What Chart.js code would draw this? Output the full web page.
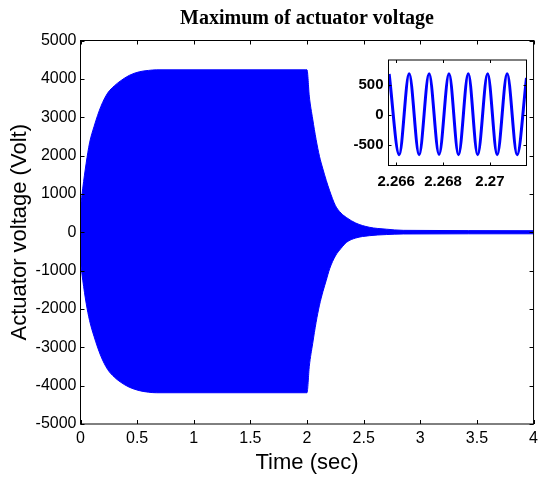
<!DOCTYPE html>
<html>
<head>
<meta charset="utf-8">
<script src="https://cdn.jsdelivr.net/npm/chart.js@4.4.0/dist/chart.umd.min.js"></script>
<style>
  html, body { margin: 0; padding: 0; background: #fff; }
  #wrap { position: relative; width: 543px; height: 477px; }
  #main { position: absolute; left: 0; top: 0; }
  #inset { position: absolute; left: 340px; top: 46px; }
</style>
</head>
<body>
<div id="wrap">
  <canvas id="main" width="543" height="477"></canvas>
  <canvas id="inset" width="190" height="150"></canvas>
</div>
<script>
// Envelope of the actuator voltage (Volt) against time (sec)
const envTime  = [0, 0.02, 0.05, 0.08, 0.12, 0.18, 0.24, 0.30, 0.35, 0.43, 0.52, 0.60, 0.67, 1.99, 2.00, 2.02, 2.05, 2.08, 2.11, 2.14, 2.17, 2.20, 2.25, 2.30, 2.35, 2.43, 2.55, 2.70, 2.85, 4.00];
const envUpper = [650, 1150, 1800, 2330, 2760, 3280, 3630, 3820, 3940, 4090, 4185, 4220, 4235, 4235, 4235, 3550, 2950, 2420, 1980, 1650, 1350, 1080, 700, 500, 380, 240, 130, 80, 50, 40];
const envLower = [-780, -1250, -1850, -2300, -2720, -3230, -3580, -3780, -3900, -4040, -4130, -4170, -4185, -4185, -4185, -3500, -2900, -2350, -1900, -1550, -1250, -950, -620, -420, -260, -150, -90, -60, -45, -40];

// Close-up window around t = 2.268 sec
const zoomTime = [2.265700, 2.266128, 2.266553, 2.266979, 2.267404, 2.267830, 2.268255, 2.268660, 2.269077, 2.269477, 2.269902, 2.270311, 2.270736, 2.271162, 2.271562];
const zoomVolt = [678, -665, 682, -668, 684, -664, 683, -667, 681, -668, 683, -665, 682, -667, 615];

// Tick values and labels
const mainXTicks = [0, 0.5, 1, 1.5, 2, 2.5, 3, 3.5, 4];
const mainYTicks = [-5000, -4000, -3000, -2000, -1000, 0, 1000, 2000, 3000, 4000, 5000];
const zoomXTicks = [2.266, 2.268, 2.27];
const zoomXLabels = ['2.266', '2.268', '2.27'];
const zoomYTicks = [-500, 0, 500];

const BLUE = '#0000ff';
const SANS = "'Liberation Sans', Arial, sans-serif";
const SERIF = "'Liberation Serif', 'Times New Roman', serif";

const pts = (xs, ys) => xs.map((x, i) => ({ x: x, y: ys[i] }));

// Box frame with inward tick marks on all four sides
const boxTicks = {
  id: 'boxTicks',
  beforeDraw(chart, args, opts) {
    if (!opts.fill) return;
    const { ctx, chartArea: a } = chart;
    ctx.save();
    ctx.fillStyle = opts.fill;
    ctx.fillRect(a.left, a.top, a.right - a.left, a.bottom - a.top);
    ctx.restore();
  },
  afterDraw(chart, args, opts) {
    const { ctx, chartArea: a, scales } = chart;
    const L = opts.len;
    ctx.save();
    ctx.strokeStyle = '#000';
    ctx.lineWidth = 1;
    ctx.beginPath();
    scales.x.ticks.forEach(t => {
      const px = Math.round(scales.x.getPixelForValue(t.value)) + 0.5;
      ctx.moveTo(px, a.bottom); ctx.lineTo(px, a.bottom - L);
      ctx.moveTo(px, a.top); ctx.lineTo(px, a.top + L);
    });
    scales.y.ticks.forEach(t => {
      const py = Math.round(scales.y.getPixelForValue(t.value)) + 0.5;
      ctx.moveTo(a.left, py); ctx.lineTo(a.left + L, py);
      ctx.moveTo(a.right, py); ctx.lineTo(a.right - L, py);
    });
    ctx.stroke();
    ctx.strokeRect(a.left, a.top, a.right - a.left, a.bottom - a.top);
    ctx.restore();
  }
};

// Main chart
new Chart(document.getElementById('main'), {
  type: 'line',
  data: {
    datasets: [
      {
        data: pts(envTime, envUpper),
        borderColor: BLUE, backgroundColor: BLUE, borderWidth: 1,
        pointRadius: 0, cubicInterpolationMode: 'monotone', fill: '+1'
      },
      {
        data: pts(envTime, envLower),
        borderColor: BLUE, backgroundColor: BLUE, borderWidth: 1,
        pointRadius: 0, cubicInterpolationMode: 'monotone', fill: false
      }
    ]
  },
  options: {
    responsive: false, animation: false, devicePixelRatio: 1,
    layout: { padding: { left: 0, right: 7.5, top: 0, bottom: 0 } },
    plugins: {
      legend: { display: false }, tooltip: { enabled: false },
      title: {
        display: true, fullSize: false, text: 'Maximum of actuator voltage', color: '#000',
        font: { family: SERIF, size: 20, weight: 'bold' },
        padding: { top: 7, bottom: 9.5 }
      },
      boxTicks: { len: 4 }
    },
    scales: {
      x: {
        type: 'linear', min: 0, max: 4,
        afterBuildTicks: s => { s.ticks = mainXTicks.map(v => ({ value: v })); },
        afterFit: s => { s.height = 53; },
        grid: { display: false, drawTicks: false }, border: { display: false },
        ticks: { color: '#000', font: { family: SANS, size: 16 }, padding: 5, maxRotation: 0, autoSkip: false, callback: v => String(v) },
        title: { display: true, text: 'Time (sec)', color: '#000', font: { family: SANS, size: 22 }, padding: { top: 0, bottom: 1 } }
      },
      y: {
        type: 'linear', min: -5000, max: 5000,
        afterBuildTicks: s => { s.ticks = mainYTicks.map(v => ({ value: v })); },
        afterFit: s => { s.width = 80.5; },
        grid: { display: false, drawTicks: false }, border: { display: false },
        ticks: { color: '#000', font: { family: SANS, size: 16 }, padding: 4, autoSkip: false, callback: v => String(v) },
        title: { display: true, text: 'Actuator voltage (Volt)', color: '#000', font: { family: SANS, size: 22 }, padding: { top: 7, bottom: 0 } }
      }
    }
  },
  plugins: [boxTicks]
});

// Inset chart
new Chart(document.getElementById('inset'), {
  type: 'line',
  data: {
    datasets: [{
      data: pts(zoomTime, zoomVolt),
      borderColor: BLUE, borderWidth: 3, pointRadius: 0,
      cubicInterpolationMode: 'monotone', fill: false
    }]
  },
  options: {
    responsive: false, animation: false, devicePixelRatio: 1,
    layout: { padding: { left: 0, right: 3.5, top: 4.5, bottom: 0 } },
    plugins: {
      legend: { display: false }, tooltip: { enabled: false },
      boxTicks: { len: 3, fill: '#fff' }
    },
    scales: {
      x: {
        type: 'linear', min: 2.265672, max: 2.271562,
        afterBuildTicks: s => { s.ticks = zoomXTicks.map(v => ({ value: v })); },
        afterFit: s => { s.height = 30.5; },
        grid: { display: false, drawTicks: false }, border: { display: false },
        ticks: { color: '#000', font: { family: SANS, size: 15, weight: 'bold' }, padding: 7, maxRotation: 0, autoSkip: false,
          callback: (v, i) => zoomXLabels[i] }
      },
      y: {
        type: 'linear', min: -846, max: 912,
        afterBuildTicks: s => { s.ticks = zoomYTicks.map(v => ({ value: v })); },
        afterFit: s => { s.width = 48.5; },
        grid: { display: false, drawTicks: false }, border: { display: false },
        ticks: { color: '#000', font: { family: SANS, size: 15, weight: 'bold' }, padding: 5, autoSkip: false, callback: v => String(v) }
      }
    }
  },
  plugins: [boxTicks]
});
</script>
</body>
</html>
